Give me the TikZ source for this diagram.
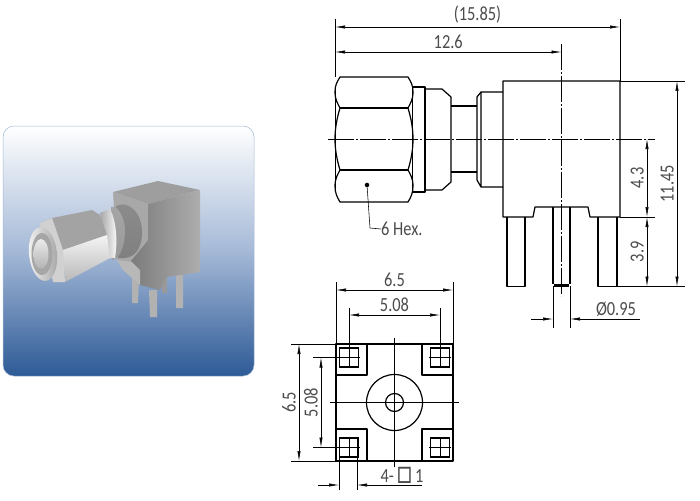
\documentclass[tikz,border=0pt]{standalone}
\usepackage{fontspec}
\setmainfont{Carlito}
\usetikzlibrary{arrows.meta}
\tikzset{
	outline/.style={line width=1.2pt,line join=round},
	thinline/.style={line width=0.55pt},
	centerline/.style={line width=0.55pt,dash pattern=on 26pt off 2pt on 2pt off 2pt},
	dim/.style={line width=0.55pt,{Latex[length=10pt,width=3.2pt]}-{Latex[length=10pt,width=3.2pt]}},
	dimtip/.style={line width=0.55pt,-{Latex[length=10pt,width=3.2pt]}},
	lbl/.style={font=\fontsize{20}{20}\selectfont,text=black!70,inner sep=0pt},
}
\newcommand{\dimtxt}[1]{\scalebox{0.82}[1]{#1}}
\definecolor{panelblue}{RGB}{45,90,150}
\definecolor{panelmid}{RGB}{165,185,215}
\begin{document}
\begin{tikzpicture}[x=1pt,y=-1pt]
	\useasboundingbox (0,0) rectangle (700,500);
	% photo panel
	\fill[white] (0,0) rectangle (700,500);
	\shade[rounded corners=11pt,top color=white,bottom color=panelblue,middle color=panelmid]
		(3,126) rectangle (254,376);
	\draw[rounded corners=11pt,line width=0.5pt,color=panelmid] (3,126) rectangle (254,376);
	% pins
	\fill[black!30] (132,273) -- (139,275) -- (138,303) -- (132,303) -- cycle;
	\fill[black!30] (149,290) -- (157,290) -- (157,317) -- (150,317) -- cycle;
	\fill[black!30] (176,274) -- (183,273) -- (183,308) -- (176,308) -- cycle;
	\fill[black!40] (162,277) -- (167,277) -- (167,293) -- (162,293) -- cycle;
	% body
	\fill[black!38] (113,192) -- (158,181) -- (200,190) -- (148,204) -- cycle;
	\shade[left color=black!52,right color=black!32] (148,204) -- (200,190) -- (200,272)
		-- (188,274) -- (166,277) -- (160,290) -- (140,285) -- (130,258) -- cycle;
	\fill[black!34] (113,192) -- (148,204) -- (148,240) -- (130,262) -- (117,260) -- cycle;
	\fill[black!28] (117,260) -- (132,262) -- (140,270) -- (140,285) -- (123,270) -- cycle;
	% neck and collar
	\shade[top color=black!45,middle color=white,bottom color=black!50]
		(116,206) .. controls (128,200) and (142,212) .. (142,232)
		.. controls (142,250) and (134,260) .. (118,258) -- cycle;
	\shade[top color=black!35,middle color=black!18,bottom color=black!40]
		(111,207) .. controls (118,204) and (126,220) .. (125,233)
		.. controls (124,248) and (120,258) .. (112,260) -- cycle;
	\shade[left color=black!35,right color=white]
		(100,213) -- (110,209) .. controls (116,220) and (118,240) .. (115,258) -- (110,258) -- cycle;
	% hex nut
	\fill[black!36] (40,223) -- (52,218) -- (92,210) -- (100,215) -- (107,235) -- (63,250) -- cycle;
	\shade[top color=black!4,bottom color=black!28] (63,250) -- (107,235) -- (110,258) -- (65,282) -- cycle;
	\fill[black!18] (40,223) -- (52,218) -- (63,250) -- (65,282) -- (53,282) -- cycle;
	% front ring
	\shade[left color=black!5,right color=black!35,rotate around={6:(43,254)}]
		(43,254) ellipse [x radius=14,y radius=27];
	\fill[black!35] (42,254) ellipse [x radius=10.5,y radius=21];
	\shade[top color=black!8,bottom color=black!30] (41,254) ellipse [x radius=7.5,y radius=15];
	% side view
	\coordinate (hexA) at (335,27);
	\coordinate (hexB) at (620,27);
	\coordinate (gapA) at (335,52);
	\coordinate (gapB) at (561.5,52);
	\draw[outline] (340,77) -- (408,77) .. controls (411,82) and (413,85) .. (413,92)
		.. controls (413,100) and (410,104) .. (408,108)
		.. controls (411,118) and (413,128) .. (413,139)
		.. controls (413,150) and (411,160) .. (408,170)
		.. controls (410,174) and (413,178) .. (413,186)
		.. controls (413,193) and (411,197) .. (408,202) -- (340,202)
		.. controls (337,197) and (335,193) .. (335,186)
		.. controls (335,178) and (338,174) .. (340,170)
		.. controls (337,160) and (335,150) .. (335,139)
		.. controls (335,128) and (337,118) .. (340,108)
		.. controls (338,104) and (335,100) .. (335,92)
		.. controls (335,85) and (337,82) .. (340,77) -- cycle;
	\draw[outline] (340,108) -- (408,108) (340,170) -- (408,170);
	\draw[thinline] (335.5,90) -- (335.5,190) (412.5,90) -- (412.5,190);
	\draw[outline] (413,87) -- (425,87) -- (425,192) -- (413,192);
	\draw[outline] (425,89) -- (442,89) -- (451,97) -- (451,182) -- (442,190) -- (425,190);
	\draw[outline] (451,106) -- (477,106) (451,172) -- (477,172);
	\draw[outline] (477,172) -- (477,97) -- (481,92) -- (503,92);
	\draw[outline] (477,172) -- (477,180) -- (481,187) -- (503,187) (481,92) -- (481,187);
	\draw[outline] (503,81) -- (620,81) -- (620,217) -- (590,217) -- (588,207) -- (535,207)
		-- (533,217) -- (503,217) -- cycle;
	\draw[outline] (507,217) -- (507,286.5) -- (525,286.5) -- (525,217);
	\draw[outline] (598,217) -- (598,286.5) -- (617,286.5) -- (617,217);
	\draw[outline] (553,207) -- (553,284) (570,207) -- (570,284);
	\draw[line width=2.4pt] (554,285.5) -- (569,285.5);
	\draw[centerline] (328,139) -- (655,139);
	\draw[centerline] (561.5,44) -- (561.5,296);
	% dimensions top
	\draw[thinline] (335,19) -- (335,77) (620,19) -- (620,81);
	\draw[dim] (hexA) -- node[lbl,above=3pt] (lblOverall) {\dimtxt{(15.85)}} (hexB);
	\draw[dim] (gapA) -- node[lbl,above=3pt] (lblGap) {\dimtxt{12.6}} (gapB);
	% dimensions right
	\coordinate (hgtA) at (677,81);
	\coordinate (hgtB) at (677,286.5);
	\coordinate (midA) at (647,139);
	\coordinate (midB) at (647,217);
	\coordinate (pinB) at (647,286.5);
	\draw[thinline] (620,81) -- (685,81) (620,217) -- (655,217) (617,286.5) -- (685,286.5);
	\draw[dim] (hgtA) -- node[lbl,rotate=90,anchor=south,yshift=3pt] (lblHeight) {\dimtxt{11.45}} (hgtB);
	\draw[dim] (midA) -- node[lbl,rotate=90,anchor=south,yshift=3pt] (lblMid) {\dimtxt{4.3}} (midB);
	\draw[dim] (midB) -- node[lbl,rotate=90,anchor=south,yshift=3pt] (lblPin) {\dimtxt{3.9}} (pinB);
	% pin diameter
	\coordinate (diaA) at (531,319);
	\coordinate (diaB) at (553,319);
	\coordinate (diaC) at (640,319);
	\coordinate (diaD) at (570,319);
	\draw[thinline] (553,286) -- (553,328) (570,286) -- (570,328);
	\draw[dimtip] (diaA) -- (diaB);
	\draw[dimtip] (diaC) -- (diaD);
	\node[lbl,anchor=south] (lblDia) at (616,317) {\dimtxt{Ø0.95}};
	% hex leader
	\node[lbl,anchor=west] (lblHex) at (381,229) {\dimtxt{6 Hex.}};
	\node[circle,fill=black,inner sep=1.6pt] (hexDot) at (367,185) {};
	\draw[thinline] (hexDot) -- (370,228) -- (lblHex.west);
	% bottom view
	\draw[outline] (336,344) rectangle (453,461);
	\draw[outline] (336,375) -- (367,375) -- (367,344);
	\draw[outline] (453,375) -- (422,375) -- (422,344);
	\draw[outline] (336,429) -- (367,429) -- (367,461);
	\draw[outline] (453,429) -- (422,429) -- (422,461);
	\foreach \px/\py in {349/357.5,440/357.5,349/447.5,440/447.5}{
		\draw[line width=1.6pt] (\px-9.5,\py-9.5) rectangle (\px+9.5,\py+9.5);
	}
	\draw[outline] (394.5,402.5) circle (28);
	\draw[outline] (394.5,402.5) circle (9);
	\draw[thinline] (394.5,338) -- (394.5,467) (330,402.5) -- (459,402.5);
	\draw[thinline] (349,308) -- (349,368) (440,308) -- (440,368);
	\draw[thinline] (336,282) -- (336,344) (453,282) -- (453,344);
	\draw[thinline] (440,437) -- (440,458);
	\draw[thinline] (338,357.5) -- (360,357.5) (429,357.5) -- (451,357.5);
	\draw[thinline] (429,447.5) -- (451,447.5);
	\coordinate (wideA) at (336,290);
	\coordinate (wideB) at (453,290);
	\coordinate (pitchA) at (349,315);
	\coordinate (pitchB) at (440,315);
	\draw[dim] (wideA) -- node[lbl,above=3pt] (lblWide) {\dimtxt{6.5}} (wideB);
	\draw[dim] (pitchA) -- node[lbl,above=3pt] (lblPitch) {\dimtxt{5.08}} (pitchB);
	\coordinate (tallA) at (299,344);
	\coordinate (tallB) at (299,461);
	\coordinate (rowA) at (321,357.5);
	\coordinate (rowB) at (321,447.5);
	\draw[thinline] (291,344) -- (336,344) (291,461) -- (336,461);
	\draw[thinline] (313,357.5) -- (338,357.5) (313,447.5) -- (360,447.5);
	\draw[dim] (tallA) -- node[lbl,rotate=90,anchor=south,yshift=3pt] (lblTall) {\dimtxt{6.5}} (tallB);
	\draw[dim] (rowA) -- node[lbl,rotate=90,anchor=south,yshift=3pt] (lblRow) {\dimtxt{5.08}} (rowB);
	% pad width
	\coordinate (padA) at (318,485);
	\coordinate (padB) at (339,485);
	\coordinate (padC) at (422,485);
	\coordinate (padD) at (357,485);
	\draw[thinline] (339,438) -- (339,490) (357,438) -- (357,490) (349,437) -- (349,458);
	\draw[dimtip] (padA) -- (padB);
	\draw[dimtip] (padC) -- (padD);
	\node[lbl,anchor=south] (lblPad) at (402,484) {\dimtxt{4-\,\raisebox{-1pt}{\scalebox{1.6}[1.7]{□}}\,1}};
\end{tikzpicture}
\end{document}
